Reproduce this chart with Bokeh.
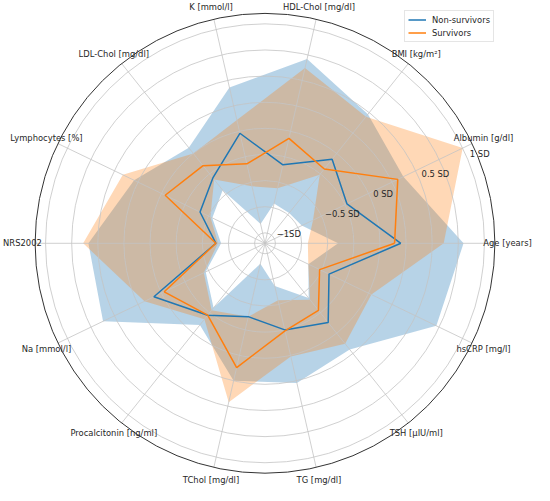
import numpy as np
from bokeh.plotting import figure
from bokeh.models import ColumnDataSource, Legend, LegendItem, Range1d
from bokeh.embed import file_html
from bokeh.resources import INLINE
from bokeh.core.properties import value

# ---------------- data (in SD units) ----------------
categories = ["Age [years]", "Albumin [g/dl]", "BMI [kg/m²]", "HDL-Chol [mg/dl]",
              "K [mmol/l]", "LDL-Chol [mg/dl]", "Lymphocytes [%]", "NRS2002",
              "Na [mmol/l]", "Procalcitonin [ng/ml]", "TChol [mg/dl]", "TG [mg/dl]",
              "TSH [µIU/ml]", "hsCRP [mg/l]"]

non_survivors = [0.20, -0.23, -0.07, -0.33, -0.02, -0.30, -0.41, -0.63,
                 0.08, -0.22, -0.38, -0.25, -0.13, -0.42]
survivors = [0.14, 0.31, -0.19, -0.07, -0.32, -0.15, -0.04, -0.63,
             -0.03, -0.22, 0.12, -0.24, -0.28, -0.52]

non_surv_upper = [0.80, 0.37, 0.48, 0.71, 0.43, 0.07, 0.29, 0.59,
                  0.62, -0.10, 0.25, 0.27, 0.20, 0.72]
non_surv_lower = [-0.40, -0.71, -0.73, -0.71, -0.91, -0.45, -0.54, -0.68,
                  -0.47, -0.31, -0.90, -0.68, -0.43, -0.64]
surv_upper = [0.61, 1.00, 0.45, 0.62, 0.11, 0.00, 0.41, 0.64,
              0.18, -0.17, 0.46, 0.01, 0.13, 0.03]
surv_lower = [-0.69, -0.59, -0.26, -0.56, -0.54, -0.32, -0.52, -0.65,
              -0.45, -0.28, -0.38, -0.54, -0.41, -0.64]

r_grid = [-1.0, -0.75, -0.5, -0.25, 0.0, 0.25, 0.5, 0.75, 1.0]
r_tick_values = [-1.0, -0.5, 0.0, 0.5, 1.0]
r_tick_labels = ["−1SD", "−0.5 SD", "0 SD", "0.5 SD", "1 SD"]

R_MIN, R_MAX = -1.1, 1.1

# ---------------- helpers ----------------
n = len(categories)
theta = np.arange(n) * 2 * np.pi / n


def rad(v):
    return np.asarray(v, dtype=float) - R_MIN


def closed_xy(vals):
    r = rad(vals)
    x = list(r * np.cos(theta)) + [r[0] * np.cos(theta[0])]
    y = list(r * np.sin(theta)) + [r[0] * np.sin(theta[0])]
    return x, y


C0 = "#1f77b4"
C1 = "#ff7f0e"
TXT = "#262626"
FONT = "DejaVu Sans"
FS = "8.4px"

W, H = 534, 485
PX = 104.5          # pixels per data unit
cx, cy = 264.5, 242.8  # centre, from top-left of canvas

p = figure(width=W, height=H,
           x_range=Range1d(-cx / PX, (W - cx) / PX),
           y_range=Range1d(-(H - cy) / PX, cy / PX),
           x_axis_type=None, y_axis_type=None,
           toolbar_location=None, output_backend="svg", min_border=0)
p.outline_line_color = None
p.background_fill_color = "white"

# ---------------- bands ----------------
bo_x, bo_y = closed_xy(non_surv_upper)
bi_x, bi_y = closed_xy(non_surv_lower)
oo_x, oo_y = closed_xy(surv_upper)
oi_x, oi_y = closed_xy(surv_lower)

p.multi_polygons(xs=[[[bo_x, bi_x]]], ys=[[[bo_y, bi_y]]],
                 fill_color=C0, fill_alpha=0.32, line_color=None)
p.multi_polygons(xs=[[[oo_x, oi_x]]], ys=[[[oo_y, oi_y]]],
                 fill_color=C1, fill_alpha=0.3, line_color=None)

# ---------------- grid ----------------
p.circle(x=[0] * len(r_grid), y=[0] * len(r_grid), radius=list(rad(r_grid)),
         fill_color=None, line_color="#c4c4c4", line_width=0.8)
Rout = R_MAX - R_MIN
p.segment(x0=[0] * n, y0=[0] * n, x1=list(Rout * np.cos(theta)), y1=list(Rout * np.sin(theta)),
          line_color="#c4c4c4", line_width=0.8)

# ---------------- lines ----------------
nx, ny = closed_xy(non_survivors)
sx, sy = closed_xy(survivors)
l1 = p.line(nx, ny, line_color=C0, line_width=1.5)
l2 = p.line(sx, sy, line_color=C1, line_width=1.5)

# outer spine
p.circle(x=[0], y=[0], radius=[Rout], fill_color=None, line_color="#333333", line_width=1.0)

# ---------------- category labels ----------------
lab_r = 2.321
lab_src = ColumnDataSource(dict(x=list(lab_r * np.cos(theta)), y=list(lab_r * np.sin(theta)),
                                text=categories))
p.text(x="x", y="y", text="text", source=lab_src, text_align="center",
       text_baseline="middle", text_font=value(FONT), text_font_size=FS, text_color=TXT)

# ---------------- radial tick labels ----------------
ang = np.deg2rad(22.5)
rt = rad(r_tick_values)
rt_src = ColumnDataSource(dict(x=list(rt * np.cos(ang) + 0.02), y=list(rt * np.sin(ang)),
                               text=r_tick_labels))
p.text(x="x", y="y", text="text", source=rt_src, text_align="left",
       text_baseline="bottom", text_font=value(FONT), text_font_size=FS, text_color=TXT)

# ---------------- legend ----------------
legend = Legend(items=[LegendItem(label="Non-survivors", renderers=[l1]),
                       LegendItem(label="Survivors", renderers=[l2])],
                location=(404, 443), orientation="vertical", margin=0, padding=3,
                spacing=2, glyph_width=18, glyph_height=11, label_height=11,
                label_standoff=6, label_text_font=FONT, label_text_font_size=FS,
                label_text_color=TXT, border_line_color="#cccccc", border_line_width=1,
                background_fill_color="white", background_fill_alpha=0.8)
p.add_layout(legend)

open("out.html", "w").write(file_html(p, INLINE))
